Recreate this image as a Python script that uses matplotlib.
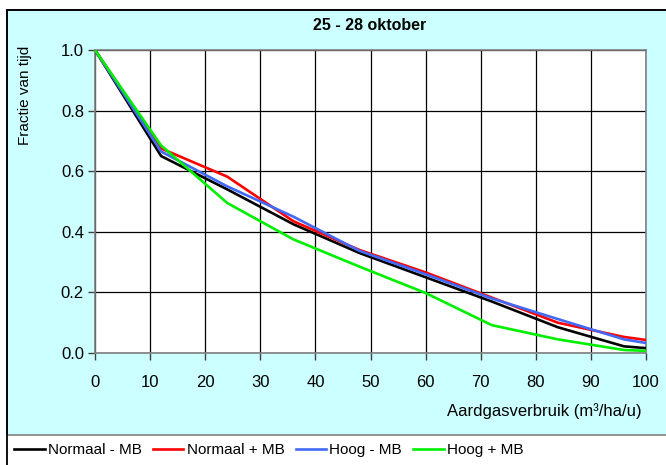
import matplotlib
matplotlib.use("Agg")
import matplotlib.pyplot as plt
from matplotlib.patches import Rectangle

plt.rcParams['font.family'] = ['Liberation Sans', 'DejaVu Sans']

x = [0, 12, 24, 36, 48, 60, 72, 84, 96, 100]
normaal_min = [1.0, 0.65, 0.54, 0.425, 0.33, 0.25, 0.17, 0.085, 0.022, 0.016]
normaal_plus = [1.0, 0.675, 0.582, 0.435, 0.34, 0.266, 0.183, 0.10, 0.053, 0.043]
hoog_min = [1.0, 0.665, 0.55, 0.45, 0.337, 0.26, 0.18, 0.112, 0.045, 0.033]
hoog_plus = [1.0, 0.685, 0.495, 0.375, 0.285, 0.198, 0.092, 0.045, 0.01, 0.007]
labels = ["Normaal - MB", "Normaal + MB", "Hoog - MB", "Hoog + MB"]
colors = ["#000000", "#FF0000", "#4169F5", "#00EE00"]
xticks = [0, 10, 20, 30, 40, 50, 60, 70, 80, 90, 100]
yticks = [0.0, 0.2, 0.4, 0.6, 0.8, 1.0]

W, H = 666, 465
fig = plt.figure(figsize=(W / 100, H / 100), dpi=100)
fig.patch.set_facecolor('white')

# chart area background with border
fig.patches.append(Rectangle((7 / W, -0.01), 1.0, (H - 10) / H + 0.01, transform=fig.transFigure,
                             facecolor='#CCFFFF', edgecolor='black', linewidth=1.2, zorder=-3))
# legend band
fig.patches.append(Rectangle((7 / W, -0.01), 1.0, (H - 435) / H + 0.01, transform=fig.transFigure,
                             facecolor='white', edgecolor='#808080', linewidth=1.2, zorder=-2))
fig.patches.append(Rectangle((7 / W, -0.01), 1.0, (H - 10) / H + 0.01, transform=fig.transFigure,
                             facecolor='none', edgecolor='black', linewidth=1.2, zorder=-1))

ax = fig.add_axes([95 / W, 1 - 353 / H, (646 - 95) / W, (353 - 50) / H])
ax.set_zorder(5)
ax.set_facecolor('white')

series = [normaal_min, normaal_plus, hoog_min, hoog_plus]
for ys, lab, c in zip(series, labels, colors):
    ax.plot(x, ys, color=c, lw=1.9, label=lab, solid_joinstyle='miter', zorder=3)

ax.set_xlim(0, 100)
ax.set_ylim(0, 1.0)
ax.set_xticks(xticks)
ax.set_yticks(yticks)
ax.set_xticklabels([str(t) for t in xticks])
ax.set_yticklabels([f"{t:.1f}" for t in yticks])
ax.grid(True, color='black', lw=0.9)
ax.set_axisbelow(True)
for s in ax.spines.values():
    s.set_color('#808080')
    s.set_linewidth(1.2)
ax.tick_params(axis='both', direction='out', length=5, width=1, color='#404040',
               labelsize=12, labelcolor='black')
ax.tick_params(axis='x', pad=11)
ax.tick_params(axis='y', pad=3)

fig.text(370 / W, 1 - 25 / H, "25 - 28 oktober", ha='center', va='center',
         fontsize=11.5, fontweight='bold')
fig.text(25 / W, 1 - 95 / H, "Fractie van tijd", ha='center', va='center',
         rotation=90, fontsize=11)
fig.text(447 / W, 1 - 411 / H, "Aardgasverbruik (m³/ha/u)", ha='left', va='center',
         fontsize=12)

handles, labs = ax.get_legend_handles_labels()
leg = fig.legend(handles, labs, loc='center left', bbox_to_anchor=(14 / W, 1 - 450 / H),
                 ncol=4, frameon=False, fontsize=11, handlelength=2.0,
                 handletextpad=0.2, columnspacing=0.75, borderaxespad=0, borderpad=0)
leg.set_zorder(6)

fig.savefig("out.png", dpi=100, facecolor=fig.get_facecolor())
